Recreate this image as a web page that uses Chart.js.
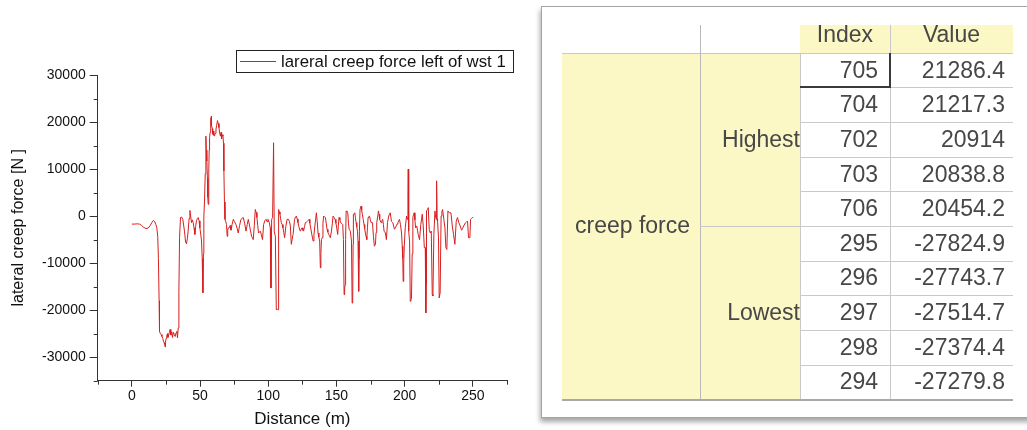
<!DOCTYPE html>
<html>
<head>
<meta charset="utf-8">
<script src="https://cdn.jsdelivr.net/npm/chart.js@4.4.0/dist/chart.umd.min.js"></script>
<style>
  html, body { margin: 0; padding: 0; background: #fff; width: 1027px; height: 430px; overflow: hidden;
    font-family: "Liberation Sans", Arial, sans-serif; }
  #plot { position: absolute; left: 0; top: 0; }
  #sheet { position: absolute; left: 0; top: 0; width: 1027px; height: 430px; filter: blur(0.4px); }
  #panel { position: absolute; left: 541px; top: 6px; width: 520px; height: 410px; background: #fff;
    border: 1px solid #a4a4a4; box-shadow: -1px 4px 5px rgba(0,0,0,0.35); }
  .b { position: absolute; box-sizing: border-box; }
  .yel { background: #fbf8c6; }
  .txt { position: absolute; box-sizing: border-box; font-size: 23px; line-height: 1; color: #474747;
    display: flex; align-items: center; white-space: nowrap; overflow: hidden; }
  .ln { position: absolute; background: #c9c9c9; }
</style>
</head>
<body>
<canvas id="plot" width="535" height="430"></canvas>
<div id="sheet"><div id="panel"></div></div>
<script>
// ---- series: lateral creep force along the track ----
const seriesLabel = 'lareral creep force left of wst 1';
const distance = [
  0, 2, 4, 5.6, 7, 8.5, 10.3, 12, 13.5, 14.8,
  15.9, 16.8, 17.6, 18.3, 19, 19.5, 20, 20.3, 20.8, 21.5,
  22.1, 22.7, 23.2, 23.6, 23.9, 24.15, 24.31, 24.40, 24.48, 24.56,
  24.64, 24.9, 25.2, 25.6, 26.1, 26.5, 27.1, 27.6, 28.1, 28.6,
  29.3, 29.8, 30.5, 31.1, 31.8, 32.4, 33, 33.5, 34, 34.5,
  35, 35.7, 36.5, 37.4, 38.6, 39.4, 40.1, 40.7, 41.3, 42,
  42.6, 43.2, 43.8, 44.4, 45, 45.6, 46.2, 46.8, 47.4, 48.1,
  48.7, 49.3, 49.9, 50.5, 51.1, 51.6, 52.1, 52.5, 52.8, 53.3,
  53.8, 54.3, 54.6, 55, 55.4, 55.7, 56, 56.4, 56.7, 57,
  57.4, 57.7, 57.95, 58.06, 58.14, 58.22, 58.30, 58.39, 58.6, 59,
  59.3, 59.7, 60.1, 60.6, 61.1, 61.7, 62.2, 62.8, 63.3, 63.9,
  64.4, 65, 65.4, 65.8, 66.3, 66.8, 67.2, 67.5, 67.9, 68.3,
  68.9, 69.4, 69.9, 70.3, 70.7, 71.4, 72.1, 72.7, 73.5, 74.4,
  75.3, 76.3, 77.2, 78, 79, 80, 80.8, 81.7, 82.7, 83.7,
  84.6, 85.4, 86.6, 87.8, 89, 89.8, 90.5, 91.1, 91.7, 92.3,
  92.9, 94.2, 95, 95.8, 96.6, 97.5, 98.4, 99.1, 99.8, 100.8,
  101.5, 102, 102.5, 103.2, 103.9, 104.4, 105.2, 105.9, 106.6, 107.2,
  107.6, 108.1, 108.6, 109.1, 109.6, 110.2, 110.8, 111.4, 112, 112.9,
  113.8, 114.9, 115.6, 116.2, 116.9, 117.5, 118.2, 119.3, 120, 120.6,
  121.2, 121.8, 122.7, 123.5, 124.2, 124.8, 125.4, 125.9, 126.6, 127.2,
  128, 128.7, 129.3, 129.9, 130.5, 131.1, 132, 132.9, 133.5, 134,
  134.7, 135.3, 135.9, 136.5, 137.1, 137.7, 138.2, 138.6, 139, 139.5,
  140.1, 140.6, 141.3, 141.9, 142.5, 143.1, 143.7, 144.3, 145, 145.5,
  146.3, 147, 147.5, 148.2, 149, 149.6, 150.2, 150.9, 151.4, 151.9,
  152.5, 153.1, 154, 154.6, 155.1, 155.6, 156, 156.3, 156.7, 157.1,
  157.7, 158.3, 158.8, 159.3, 160.2, 161, 161.5, 161.9, 162.2, 162.4,
  162.9, 163.4, 163.9, 164.4, 164.9, 165.4, 165.8, 166.3, 166.6, 166.8,
  167.3, 168, 168.5, 169, 169.6, 170.2, 170.7, 171.2, 171.7, 172.2,
  172.7, 173.2, 173.7, 174.2, 174.8, 175.4, 176.4, 177.1, 177.8, 178.6,
  179, 179.5, 180.2, 180.8, 181.2, 181.7, 182.7, 183.3, 183.9, 184.4,
  184.9, 185.9, 186.6, 187.4, 188.3, 188.9, 189.4, 190.3, 191.3, 191.9,
  192.5, 193.2, 193.8, 194.4, 195, 196.2, 196.9, 197.7, 198.2, 198.6,
  198.9, 199.3, 199.7, 200.4, 201.4, 202.1, 202.4, 202.6, 202.8, 203.1,
  203.6, 204.1, 204.6, 205, 205.5, 206, 206.5, 207, 207.5, 208,
  208.9, 209.4, 209.9, 210.9, 211.8, 212.4, 212.9, 213.6, 214.4, 215.1,
  215.5, 215.8, 216, 216.8, 217.3, 218, 218.8, 219.5, 220.2, 220.7,
  221.4, 222.2, 222.7, 223.2, 223.4, 223.8, 224.1, 224.8, 225.3, 226,
  226.7, 227.3, 227.8, 228.7, 229.5, 230.2, 230.9, 231.7, 232.2, 232.7,
  233.9, 234.9, 235.8, 236.8, 237.8, 238.7, 239.7, 240.7, 241.7, 242.5,
  243.2, 244.6, 245.4, 246.1, 246.8, 247.8, 248.3, 249, 249.6, 250
];
const force = [
  -1700, -1700, -1650, -1700, -1950, -2350, -2650, -2550, -2000, -1300,
  -900, -1200, -1800, -2400, -4300, -9000, -18000, -24500, -24900, -25200,
  -25600, -26000, -26600, -26900, -27000, -27100, -27279.8, -27824.9, -27743.7, -27514.7,
  -27374.4, -26800, -26000, -25500, -25000, -25800, -25200, -24700, -24100, -25300,
  -24600, -25800, -24700, -25200, -25600, -24800, -24500, -25900, -23800, -16300,
  -4500, -300, -200, -700, -3200, -5500, -5900, -4800, -3200, -500,
  1200, -200, -1400, -800, -1400, -2500, -3900, -2200, -1000, -500,
  -300, -1000, -2500, -3800, -5300, -9000, -16300, -8000, 0, 3200,
  9000, 17000, 14000, 11700, 8000, 4000, 2500, 9000, 14000, 16700,
  17800, 18800, 19800, 20914, 20838.8, 21217.3, 21286.4, 20454.2, 19400, 18600,
  17400, 18100, 17200, 17000, 17600, 18500, 19300, 20300, 19700, 18800,
  17600, 17000, 17800, 16400, 17300, 17000, 15500, 9600, 3000, -700,
  -1200, -1800, -4300, -3000, -2500, -2500, -2000, -3000, -1800, -700,
  -1200, -1800, -2600, -3600, -2000, -700, -500, -300, -1500, -3200,
  -1800, -700, -2500, -4300, -5000, -2000, 1400, 800, -300, -2000,
  -3600, -3200, -4000, -5000, -1800, -1000, -700, -1200, -700, -1400,
  -2500, -15300, -700, -300, 15600, -3200, -4300, -19900, -19800, -19900,
  1400, 900, 400, -600, -1400, -1800, -2500, -3500, -4600, -2200,
  -700, -700, -1200, -2100, -6000, -5000, -3900, -700, -200, 0,
  -600, -1400, -2500, -3200, -2800, -2500, -3000, -3200, -2200, -1400,
  -1300, -1100, -900, -700, -1500, -2500, -4000, -5300, -4000, -2500,
  -800, 700, -1200, -3600, -4500, -5300, -11000, -8000, -5000, -4600,
  -1500, 0, -200, -300, -1500, -2800, -3400, -3900, -4300, -4600,
  -3200, -1500, 0, -300, -700, -1500, -2500, -3900, -2000, -300,
  -800, -1400, -1600, -1800, -5000, -16700, -15500, -14600, -5000, 1100,
  900, 700, -1500, -2800, -3200, -5300, -18500, -18100, -6000, 400,
  500, 700, -300, -1400, -2300, -3200, -5300, -16000, -9000, -3200,
  1400, 2100, 1200, 400, -700, -1800, -2700, -3600, -4300, -5000,
  -2500, -300, -100, 0, -700, -1400, -1400, -4300, -6400, -6000,
  -3500, -1400, -200, 1100, 400, -700, -1400, -1000, -700, -1800,
  -3200, -3600, -5000, -1400, 0, 400, 700, -1100, -1400, -2100,
  -2800, -2500, -2100, -1700, -1400, -700, -1800, -3600, -6400, -9000,
  -13900, -10000, -6400, -2500, 0, -700, 4000, 10000, 3000, -3200,
  -5300, -18100, -17800, -17400, -8000, -300, 300, 700, -800, -2500,
  -2100, -3000, -3900, -5000, -1800, -600, 400, -2100, -6700, -6700,
  -20600, -14600, 1100, 1400, 1800, -2800, -3600, -3200, -16700, -17000,
  -3900, 1100, -300, -700, 7500, -600, -1100, -4600, -17400, -16300,
  0, 1000, 1400, -700, -2500, -6700, -7100, 1100, 900, 700,
  700, -2100, -3900, -6000, -1100, -300, -1400, -2100, -3000, -2600,
  -2100, -1400, -1200, -1100, -4600, -4600, -700, -500, -300, -350
];

// ---- axis ticks ----
const xTicks = [0, 50, 100, 150, 200, 250];
const xMinorTicks = [-25, 25, 75, 125, 175, 225, 275];
const yTicks = [-30000, -20000, -10000, 0, 10000, 20000, 30000];
const yMinorTicks = [-35000, -25000, -15000, -5000, 5000, 15000, 25000];

// ---- statistics table ----
const groupName = 'creep force';
const rankNames = ['Highest', 'Lowest'];
const tableHeaders = ['Index', 'Value'];
const rowIndex = [705, 704, 702, 703, 706, 295, 296, 297, 298, 294];
const rowValue = [21286.4, 21217.3, 20914, 20838.8, 20454.2, -27824.9, -27743.7, -27514.7, -27374.4, -27279.8];

// ---------------------------------------------------------------
const FONT = '"Liberation Sans", Arial, sans-serif';
const INK = '#111';
const AXIS = '#333';

const minorTicks = {
  id: 'minorTicks',
  afterDraw(chart) {
    const { ctx, chartArea: a, scales: { x, y } } = chart;
    ctx.save();
    ctx.strokeStyle = AXIS;
    ctx.lineWidth = 1;
    ctx.beginPath();
    yMinorTicks.forEach(v => {
      const py = Math.round(y.getPixelForValue(v)) + 0.5;
      ctx.moveTo(a.left - 4, py); ctx.lineTo(a.left, py);
    });
    xMinorTicks.forEach(v => {
      const px = Math.round(x.getPixelForValue(v)) + 0.5;
      ctx.moveTo(px, a.bottom); ctx.lineTo(px, a.bottom + 4);
    });
    ctx.stroke();
    ctx.restore();
  }
};

const legendBox = {
  id: 'legendBox',
  afterDraw(chart) {
    const { ctx } = chart;
    const ds = chart.data.datasets[0];
    ctx.save();
    ctx.strokeStyle = '#222';
    ctx.lineWidth = 1;
    ctx.strokeRect(236.5, 50.5, 277, 22);
    ctx.strokeStyle = ds.borderColor;
    ctx.beginPath(); ctx.moveTo(240, 61.5); ctx.lineTo(276, 61.5); ctx.stroke();
    ctx.fillStyle = INK;
    ctx.font = '16.8px ' + FONT;
    ctx.textBaseline = 'middle';
    ctx.fillText(ds.label, 281, 62);
    ctx.restore();
  }
};

new Chart(document.getElementById('plot'), {
  type: 'line',
  data: {
    datasets: [{
      label: seriesLabel,
      data: distance.map((d, i) => ({ x: d, y: force[i] })),
      borderColor: '#d61f1f',
      borderWidth: 1,
      pointRadius: 0,
      tension: 0,
      fill: false
    }]
  },
  options: {
    responsive: false,
    animation: false,
    layout: { padding: { top: 75, right: 28, left: 0, bottom: 0 } },
    plugins: { legend: { display: false }, tooltip: { enabled: false } },
    scales: {
      x: {
        type: 'linear', min: -25, max: 275,
        afterBuildTicks: s => { s.ticks = xTicks.map(v => ({ value: v })); },
        afterFit: s => { s.height = 49.3; },
        border: { color: AXIS, width: 1 },
        grid: { drawOnChartArea: false, drawTicks: true, tickLength: 6, color: AXIS },
        ticks: { color: INK, font: { family: FONT, size: 14 }, padding: 1, maxRotation: 0, autoSkip: false,
                 callback: v => String(v) },
        title: { display: true, text: 'Distance (m)', color: INK, font: { family: FONT, size: 17 },
                 padding: { top: 0, bottom: 0.5 } }
      },
      y: {
        type: 'linear', min: -35000, max: 30000,
        afterBuildTicks: s => { s.ticks = yTicks.map(v => ({ value: v })); },
        afterFit: s => { s.width = 97.7; },
        border: { color: AXIS, width: 1 },
        grid: { drawOnChartArea: false, drawTicks: true, tickLength: 8, color: AXIS },
        ticks: { color: INK, font: { family: FONT, size: 14 }, padding: 4, autoSkip: false,
                 callback: v => String(v) },
        title: { display: true, text: 'lateral creep force [N ]', color: INK, font: { family: FONT, size: 16 },
                 padding: { top: 8.7, bottom: 0 } }
      }
    }
  },
  plugins: [minorTicks, legendBox]
});

// ---- statistics sheet ----
(function buildSheet() {
  const sheet = document.getElementById('sheet');
  const L = 562, C1 = 700, C2 = 800, C3 = 890, R = 1013;
  const headTop = 25, bodyTop = 52.7, rowH = 34.66;
  const bodyBottom = bodyTop + rowH * rowIndex.length;
  const half = rankNames.length ? rowIndex.length / rankNames.length : rowIndex.length;

  function el(cls, x, y, w, h, css) {
    const d = document.createElement('div');
    d.className = cls;
    Object.assign(d.style, { left: x + 'px', top: y + 'px', width: w + 'px', height: h + 'px' }, css || {});
    sheet.appendChild(d);
    return d;
  }
  function text(str, x, y, w, h, align, padL, padR) {
    const d = el('txt', x, y, w, h, {
      justifyContent: align, paddingLeft: (padL || 0) + 'px', paddingRight: (padR || 0) + 'px'
    });
    d.textContent = str;
    return d;
  }

  // yellow label areas
  el('b yel', L, bodyTop, C1 - L, bodyBottom - bodyTop);
  el('b yel', C1, bodyTop, C2 - C1, bodyBottom - bodyTop);
  el('b yel', C2, headTop, C3 - C2, bodyTop - headTop);
  el('b yel', C3, headTop, R - C3, bodyTop - headTop);

  // headers (top edge of the glyphs is cut by the view)
  const hdr = el('b', C2, headTop, R - C2, bodyTop - headTop, { overflow: 'hidden' });
  hdr.style.position = 'absolute';
  sheet.removeChild(hdr);
  sheet.appendChild(hdr);
  [[tableHeaders[0], 0, C3 - C2], [tableHeaders[1], C3 - C2, R - C3]].forEach(([s, x, w]) => {
    const d = document.createElement('div');
    d.className = 'txt';
    Object.assign(d.style, { left: x + 'px', top: '-6px', width: w + 'px', height: '30px', justifyContent: 'center' });
    d.textContent = s;
    hdr.appendChild(d);
  });

  // group and rank labels
  text(groupName, L, bodyTop, C1 - L, bodyBottom - bodyTop, 'flex-start', 13, 0);
  rankNames.forEach((name, k) => {
    text(name, C1, bodyTop + k * half * rowH, C2 - C1, half * rowH, 'flex-end', 0, 0);
  });

  // data rows
  rowIndex.forEach((idx, i) => {
    const y = bodyTop + i * rowH;
    text(String(idx), C2, y, C3 - C2, rowH, 'flex-end', 0, 12);
    text(String(rowValue[i]), C3, y, R - C3, rowH, 'flex-end', 0, 8);
  });

  // rules
  el('ln', L, bodyTop, R - L, 1);
  el('ln', C1, headTop, 1, bodyBottom - headTop, { background: '#b9b9b9' });
  el('ln', C2, bodyTop, 1, bodyBottom - bodyTop);
  el('ln', C3, headTop, 1, bodyBottom - headTop);
  for (let i = 1; i < rowIndex.length; i++) {
    const x0 = (i % half === 0) ? C1 : C2;
    el('ln', x0, bodyTop + i * rowH, R - x0, 1);
  }
  el('ln', L, bodyBottom - 0.5, R - L, 2, { background: '#a9a9a9' });

  // active cell marker
  el('ln', C2, bodyTop + rowH - 1, C3 - C2 + 1, 2, { background: '#3a3a3a' });
  el('ln', C3 - 1, bodyTop, 2, rowH + 1, { background: '#3a3a3a' });
})();
</script>
</body>
</html>
